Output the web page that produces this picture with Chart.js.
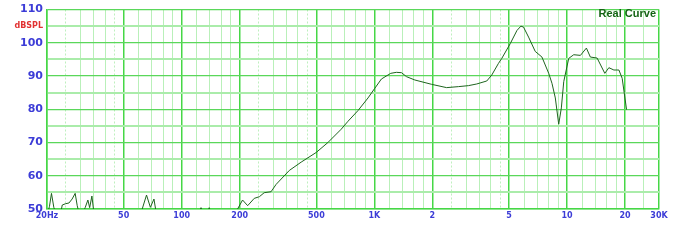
<!DOCTYPE html>
<html>
<head>
<meta charset="utf-8">
<script src="https://cdn.jsdelivr.net/npm/chart.js@4"></script>
<style>
  html, body { margin: 0; padding: 0; background: #fff; }
  #wrap { width: 683px; height: 241px; }
</style>
</head>
<body>
<div id="wrap"><canvas id="spl"></canvas></div>
<script>
// ---------- data ----------
const freqHz = [20, 20.6, 21.1, 21.7, 22.4, 23.4, 24.0, 25.0, 26.0, 27.0, 28.0, 28.7, 29.4, 30.6, 31.6, 32.6, 33.3, 34.2, 35.0, 36.5,
  58, 62.4, 65.7, 68.8, 71.8, 73.2, 78,
  118, 123, 126, 129, 136, 139, 142, 180,
  195, 207, 220, 238, 253, 268, 291, 309, 362, 417, 499, 574, 673, 730, 822, 927,
  1005, 1088, 1216, 1300, 1383, 1468, 1622, 1981, 2371, 2729, 3076, 3398, 3831, 4067, 4406, 4584,
  5067, 5495, 5761, 5945, 6313, 6836, 7407, 8030, 8350, 8690, 9050, 9340, 9610,
  10200, 10830, 11730, 12600, 13210, 14320, 15700, 16480, 17500, 18580, 19320, 20360];
const splDb = [48, 50.8, 54.7, 50.5, 48, 48, 51.2, 51.6, 51.8, 53, 54.7, 51, 48.5, 48.5, 50.5, 52.7, 50.4, 53.9, 49, 47,
  47, 50, 54.2, 50.5, 53.0, 50, 47,
  47, 49, 50.4, 49, 49, 50.4, 49, 46,
  50, 52.7, 51.0, 53.2, 53.7, 54.9, 55.2, 57.4, 61.6, 64.1, 67.0, 70.0, 74.0, 76.4, 79.6, 83.4,
  86.3, 89.1, 90.8, 91.1, 91.0, 89.8, 88.8, 87.5, 86.5, 86.8, 87.1, 87.6, 88.5, 90.3, 93.8, 95.3,
  99.7, 103.7, 105.0, 104.7, 101.7, 97.4, 95.7, 90.8, 87.8, 83.4, 75.5, 80.4, 88.3,
  95.3, 96.4, 96.2, 98.4, 95.7, 95.4, 90.8, 92.5, 91.8, 91.8, 89.3, 79.9];

// tick labels
const xLabels = {20: '20Hz', 50: '50', 100: '100', 200: '200', 500: '500', 1000: '1K',
  2000: '2', 5000: '5', 10000: '10', 20000: '20', 30000: '30K'};
const yLabels = {50: '50', 60: '60', 70: '70', 80: '80', 90: '90', 100: '100', 105: 'dBSPL', 110: '110'};

// grid positions
const xMajor = [20, 50, 100, 200, 500, 1000, 2000, 5000, 10000, 20000, 30000];
const xMinor = [30, 35, 40, 60, 70, 80, 90, 120, 140, 160, 180, 300, 350, 400, 600, 700, 800, 900,
  1200, 1400, 1600, 1800, 3000, 3500, 4000, 6000, 7000, 8000, 9000, 12000, 14000, 16000, 18000, 25000];
const xDotted = [25, 45, 250, 450, 2500, 4500];
const yGrid = [50, 55, 60, 65, 70, 75, 80, 85, 90, 95, 100, 105, 110];

const blue = 'rgb(60,60,215)';
const tv = c => (c && c.tick ? c.tick.value : null);

const realCurveLabel = {
  id: 'realCurveLabel',
  afterDraw(chart) {
    const c = chart.ctx;
    c.save();
    c.font = 'bold 11px "Liberation Sans", Arial, sans-serif';
    c.fillStyle = 'rgb(20,100,20)';
    c.textAlign = 'right';
    c.textBaseline = 'middle';
    c.fillText('Real Curve', chart.chartArea.right - 3, 14);
    c.restore();
  }
};

new Chart(document.getElementById('spl'), {
  type: 'line',
  data: {
    datasets: [{
      data: freqHz.map((f, i) => ({x: f, y: splDb[i]})),
      borderColor: 'rgb(30,100,30)',
      borderWidth: 1,
      pointRadius: 0,
      tension: 0,
      xAxisID: 'x',
      yAxisID: 'y'
    }]
  },
  options: {
    responsive: true,
    maintainAspectRatio: false,
    animation: false,
    layout: {padding: {left: 0, top: 7, right: 24, bottom: 0}},
    plugins: {legend: {display: false}, tooltip: {enabled: false}},
    scales: {
      x2: {
        type: 'logarithmic', axis: 'x', position: 'bottom', min: 20, max: 30000,
        afterBuildTicks: s => { s.ticks = xDotted.map(v => ({value: v})); },
        afterFit: s => { s.height = 0; },
        ticks: {display: false},
        grid: {color: 'rgb(190,240,190)', lineWidth: 1, drawTicks: false},
        border: {display: false, dash: [2, 2]}
      },
      x: {
        type: 'logarithmic', position: 'bottom', min: 20, max: 30000,
        afterBuildTicks: s => {
          s.ticks = xMajor.concat(xMinor).sort((a, b) => a - b).map(v => ({value: v}));
        },
        afterFit: s => { s.height = 32; },
        ticks: {
          autoSkip: false, maxRotation: 0, minRotation: 0, padding: 2,
          color: blue,
          font: {family: '"DejaVu Sans", sans-serif', size: 8, weight: 'bold'},
          callback: v => xLabels[v] || ''
        },
        grid: {
          drawTicks: false,
          color: c => xMajor.includes(tv(c)) ? 'rgb(70,215,70)' : 'rgb(185,240,185)',
          lineWidth: c => xMajor.includes(tv(c)) ? 1.5 : 1
        },
        border: {color: 'rgb(70,215,70)', width: 1.5}
      },
      y: {
        min: 50, max: 110,
        afterBuildTicks: s => { s.ticks = yGrid.map(v => ({value: v})); },
        afterFit: s => { s.width = 47; },
        ticks: {
          autoSkip: false, padding: 4,
          color: c => tv(c) === 105 ? 'rgb(225,50,50)' : blue,
          font: c => tv(c) === 105
            ? {family: '"DejaVu Sans", sans-serif', size: 8, weight: 'bold', lineHeight: 1}
            : {family: '"DejaVu Sans", sans-serif', size: 11, weight: 'bold', lineHeight: 1},
          callback: v => yLabels[v] || ''
        },
        grid: {
          drawTicks: false,
          color: c => tv(c) % 10 === 0 ? 'rgb(90,215,90)' : 'rgb(170,236,170)',
          lineWidth: c => tv(c) % 10 === 0 ? 1.2 : 2
        },
        border: {color: 'rgb(70,215,70)', width: 1.5}
      }
    }
  },
  plugins: [realCurveLabel]
});
</script>
</body>
</html>
